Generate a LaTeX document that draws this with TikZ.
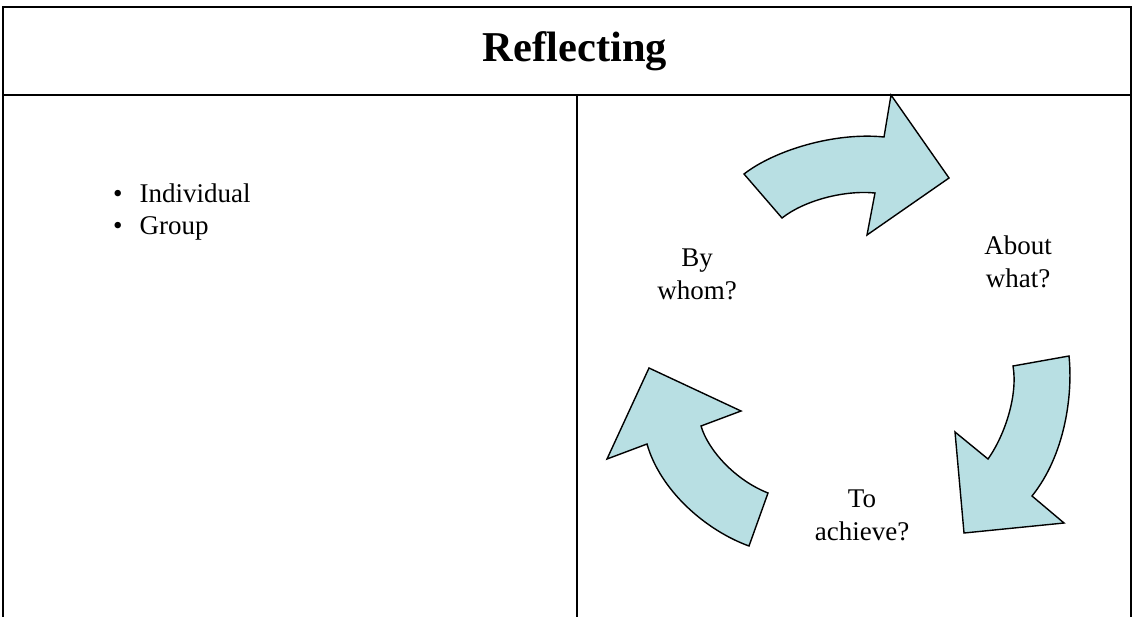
\documentclass[tikz,border=0pt]{standalone}
\usepackage{fontspec}
\setmainfont{Liberation Serif}
\definecolor{arrowfill}{RGB}{184,223,227}
\begin{document}
\begin{tikzpicture}[x=1pt,y=-1pt,
  rule/.style={line width=2.7pt},
  thin rule/.style={line width=1.8pt},
  cyc/.style={fill=arrowfill,draw=black,line width=1.4pt,line join=miter},
  body/.style={font=\fontsize{27}{33}\selectfont,align=center,inner sep=0pt},
  title/.style={font=\fontsize{42.5}{48}\selectfont\bfseries,inner sep=0pt}]
\useasboundingbox (0,0) rectangle (1134,617);
% table frame
\coordinate (tl) at (3,7);
\coordinate (tr) at (1131,7);
\coordinate (ml) at (3,95);
\coordinate (mr) at (1131,95);
\coordinate (bl) at (3,617);
\coordinate (br) at (1131,617);
\coordinate (dt) at (577,95);
\coordinate (db) at (577,617);
\draw[rule] (bl) -- (tl) -- (tr) -- (br);
\draw[rule] (ml) -- (mr);
\draw[thin rule] (dt) -- (db);
% title
\node[title,anchor=base] (ttl) at (575,62) {Reflecting};
% bullet list
\node[body,anchor=base west] (b1) at (113,203) {\textbullet\hspace{17pt}Individual};
\node[body,anchor=base west] (b2) at (113,235) {\textbullet\hspace{17pt}Group};
% cycle arrows
\draw[cyc] (744,174) .. controls (775,150) and (835,132) .. (884,137)
  -- (891,95) -- (949,178) -- (867,235) -- (875,193)
  .. controls (845,190) and (805,200) .. (782,218) -- cycle;
\draw[cyc] (1069,356) .. controls (1073,395) and (1065,455) .. (1032,496)
  -- (1064,523) -- (964,533) -- (955,432) -- (988,459)
  .. controls (1005,435) and (1018,395) .. (1013,366) -- cycle;
\draw[cyc] (749,546) .. controls (705,530) and (660,490) .. (647,444)
  -- (607,459) -- (649,368) -- (741,411) -- (701,426)
  .. controls (708,450) and (735,480) .. (768,493) -- cycle;
% cycle labels
\node[body] (about) at (1018,262) {About\\what?};
\node[body] (whom) at (697,274) {By\\whom?};
\node[body] (achieve) at (862,515) {To\\achieve?};
\end{tikzpicture}
\end{document}
